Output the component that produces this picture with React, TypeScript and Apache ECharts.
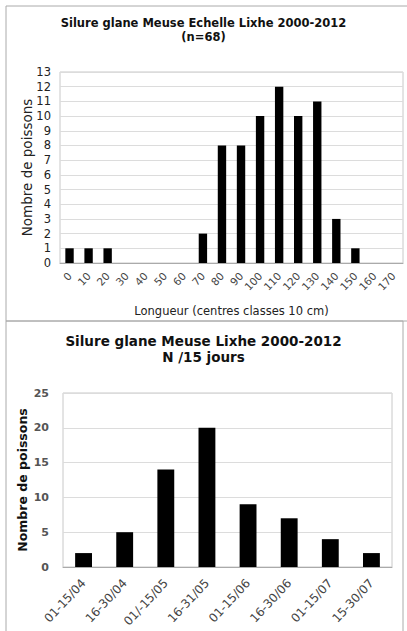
import React, { useEffect, useRef } from "react";
import * as echarts from "echarts";

const lengthClasses = ["0","10","20","30","40","50","60","70","80","90","100","110","120","130","140","150","160","170"];
const lengthCounts = [1,1,1,0,0,0,0,2,8,8,10,12,10,11,3,1,0,0];
const periods = ["01-15/04","16-30/04","01/-15/05","16-31/05","01-15/06","16-30/06","01-15/07","15-30/07"];
const periodCounts = [2,5,14,20,9,7,4,2];

const FONT = "DejaVu Sans";

export default function App() {
  const ref = useRef<HTMLDivElement>(null);
  useEffect(() => {
    const chart = echarts.init(ref.current!, null, { renderer: "svg" });
    chart.setOption({
      animation: false,
      backgroundColor: "#fff",
      textStyle: { fontFamily: FONT },
      title: [
        {
          text: "Silure glane Meuse Echelle Lixhe 2000-2012\n(n=68)",
          left: "center",
          top: 11,
          textStyle: { fontFamily: FONT, fontWeight: "bold", fontSize: 11.5, lineHeight: 14, color: "#111" },
        },
        {
          text: "Silure glane Meuse Lixhe 2000-2012\nN /15 jours",
          left: "center",
          top: 328,
          textStyle: { fontFamily: FONT, fontWeight: "bold", fontSize: 13.5, lineHeight: 16, color: "#111" },
        },
      ],
      graphic: [
        { type: "rect", shape: { x: 6, y: 6, width: 410, height: 315 }, style: { fill: "none", stroke: "#aaa", lineWidth: 1 } },
        { type: "rect", shape: { x: 6, y: 321, width: 397, height: 320 }, style: { fill: "none", stroke: "#aaa", lineWidth: 1 } },
      ],
      grid: [
        { left: 60, top: 72, right: 4, bottom: 368, show: true, borderColor: "#c8c8c8", borderWidth: 1, backgroundColor: "transparent" },
        { left: 63, top: 393, right: 15, bottom: 64, show: true, borderColor: "#c8c8c8", borderWidth: 1, backgroundColor: "transparent" },
      ],
      xAxis: [
        {
          type: "category",
          gridIndex: 0,
          data: lengthClasses,
          axisLine: { lineStyle: { color: "#aaa" } },
          axisTick: { show: false },
          axisLabel: { rotate: 47, fontSize: 10.5, color: "#444", fontFamily: FONT, margin: 11, interval: 0 },
          name: "Longueur (centres classes 10 cm)",
          nameLocation: "middle",
          nameGap: 42,
          nameMoveOverlap: false,
          nameTextStyle: { fontSize: 11.5, color: "#222", fontFamily: FONT },
        },
        {
          type: "category",
          gridIndex: 1,
          data: periods,
          axisLine: { lineStyle: { color: "#aaa" } },
          axisTick: { show: false },
          axisLabel: { rotate: 47, fontSize: 12, color: "#444", fontFamily: FONT, margin: 14, interval: 0 },
        },
      ],
      yAxis: [
        {
          type: "value",
          gridIndex: 0,
          min: 0,
          max: 13,
          interval: 1,
          axisLine: { show: false },
          axisTick: { show: false },
          splitLine: { lineStyle: { color: "#dcdcdc" } },
          axisLabel: { fontSize: 11.5, color: "#222", fontFamily: FONT, margin: 9 },
          name: "Nombre de poissons",
          nameLocation: "middle",
          nameGap: 26,
          nameMoveOverlap: false,
          nameTextStyle: { fontSize: 13.5, color: "#222", fontFamily: FONT },
        },
        {
          type: "value",
          gridIndex: 1,
          min: 0,
          max: 25,
          interval: 5,
          axisLine: { show: false },
          axisTick: { show: false },
          splitLine: { lineStyle: { color: "#dcdcdc" } },
          axisLabel: { fontSize: 11, color: "#555", fontWeight: "bold", fontFamily: FONT, margin: 14 },
          name: "Nombre de poissons",
          nameLocation: "middle",
          nameGap: 34,
          nameMoveOverlap: false,
          nameTextStyle: { fontSize: 12.5, color: "#111", fontWeight: "bold", fontFamily: FONT },
        },
      ],
      series: [
        {
          type: "bar",
          xAxisIndex: 0,
          yAxisIndex: 0,
          data: lengthCounts,
          barWidth: "44%",
          itemStyle: { color: "#000" },
        },
        {
          type: "bar",
          xAxisIndex: 1,
          yAxisIndex: 1,
          data: periodCounts,
          barWidth: "41%",
          itemStyle: { color: "#000" },
        },
      ],
    });
    return () => chart.dispose();
  }, []);
  return <div ref={ref} style={{ position: "fixed", left: 0, top: 0, width: 407, height: 631 }} />;
}
